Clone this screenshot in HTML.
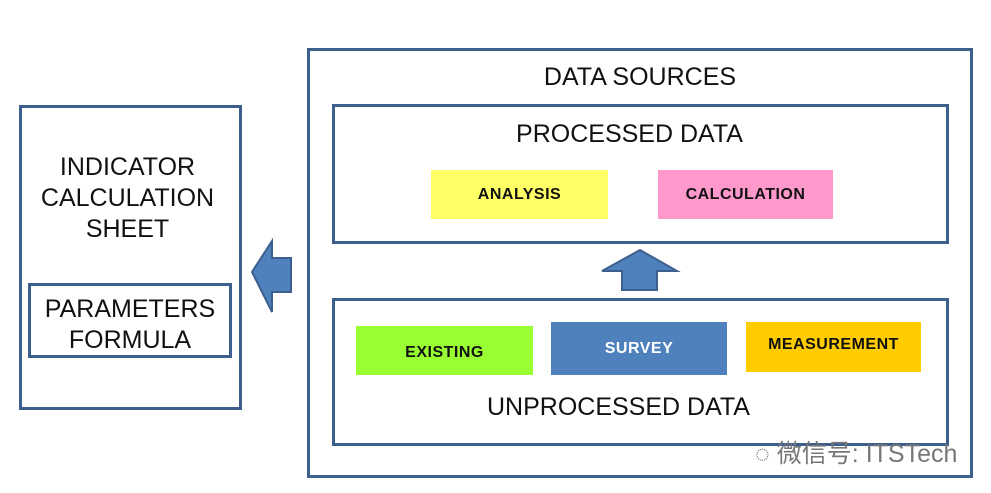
<!DOCTYPE html>
<html><head><meta charset="utf-8"><style>
body{margin:0;width:991px;height:493px;background:#fff;position:relative;overflow:hidden;font-family:"Liberation Sans",Arial,sans-serif}
.b{position:absolute;border:3px solid #3c5f8e;box-sizing:border-box}
.t{position:absolute;text-align:center;font-size:25px;color:#111;line-height:31px}
.r{position:absolute;display:flex;align-items:center;justify-content:center;font-weight:bold;font-size:16px;color:#111;letter-spacing:0.5px}
</style></head><body>
<div class="b" style="left:19px;top:105px;width:223px;height:305px"></div>
<div class="t" style="left:16px;top:152px;width:223px">INDICATOR<br>CALCULATION<br>SHEET</div>
<div class="b" style="left:28px;top:283px;width:204px;height:75px"></div>
<div class="t" style="left:28px;top:294px;width:204px">PARAMETERS<br>FORMULA</div>
<div class="b" style="left:307px;top:48px;width:666px;height:430px"></div>
<div class="t" style="left:307px;top:62px;width:666px">DATA SOURCES</div>
<div class="b" style="left:332px;top:104px;width:617px;height:140px"></div>
<div class="t" style="left:321px;top:119px;width:617px">PROCESSED DATA</div>
<div class="b" style="left:332px;top:298px;width:617px;height:148px"></div>
<div class="t" style="left:310px;top:392px;width:617px">UNPROCESSED DATA</div>
<div class="r" style="left:431px;top:170px;width:177px;height:49px;background:#ffff66">ANALYSIS</div>
<div class="r" style="left:658px;top:170px;width:175px;height:49px;background:#ff99cc">CALCULATION</div>
<div class="r" style="left:356px;top:326px;width:177px;height:49px;background:#99ff33;padding-top:4px;box-sizing:border-box">EXISTING</div>
<div class="r" style="left:551px;top:322px;width:176px;height:53px;background:#4f81bd;color:#fff">SURVEY</div>
<div class="r" style="left:746px;top:322px;width:175px;height:50px;background:#ffcc00;padding-bottom:4px;box-sizing:border-box">MEASUREMENT</div>
<svg style="position:absolute;left:0;top:0" width="991" height="493">
<polygon points="252,272 272,241 272,258 291,258 291,292 272,292 272,312" fill="#4f81bd" stroke="#3c5f8e" stroke-width="2"/>
<polygon points="640,250 677,271 657,271 657,290 622,290 622,271 602,271" fill="#4f81bd" stroke="#3c5f8e" stroke-width="2"/>
</svg>
<div style="position:absolute;left:755px;top:434px;font-size:25px;color:#777;font-family:'Liberation Sans','Noto Sans CJK SC',sans-serif">◌ 微信号: ITSTech</div>
</body></html>
